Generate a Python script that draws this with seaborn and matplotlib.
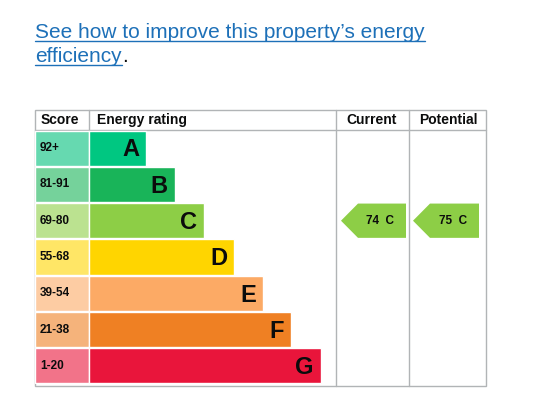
import matplotlib
matplotlib.use("Agg")
import matplotlib.pyplot as plt
import seaborn as sns
from matplotlib.patches import Polygon, Rectangle

sns.set_theme(style="white")
plt.rcParams['font.family'] = ['Liberation Sans', 'DejaVu Sans']

bands = ["A", "B", "C", "D", "E", "F", "G"]
scores = ["92+", "81-91", "69-80", "55-68", "39-54", "21-38", "1-20"]
bar_len = [57, 86, 115, 145, 174, 202, 232]
colors = ["#00c781", "#19b459", "#8dce46", "#ffd500", "#fcaa65", "#ef8023", "#e9153b"]
light = ["#66d9b0", "#75d29b", "#bbe290", "#ffe666", "#fdcca3", "#f5b37b", "#f27389"]
current_score, current_band = 74, "C"
potential_score, potential_band = 75, "C"

W, H = 547, 405
fig = plt.figure(figsize=(W/100, H/100), dpi=100)
main = fig.add_axes([0, 0, 1, 1])
main.set_xlim(0, W); main.set_ylim(H, 0); main.axis("off")

blue = "#1d70b8"
t1 = main.text(35, 38, "See how to improve this property\u2019s energy", color=blue, fontsize=15, va="baseline")
t2 = main.text(35, 62, "efficiency", color=blue, fontsize=15, va="baseline")
fig.canvas.draw()
r = fig.canvas.get_renderer()
inv = main.transData.inverted()
for t, y in [(t1, 41), (t2, 65)]:
    bb = t.get_window_extent(r)
    x0 = inv.transform((bb.x0, bb.y0))[0]; x1 = inv.transform((bb.x1, bb.y0))[0]
    main.plot([x0, x1], [y, y], color=blue, lw=1)
    if t is t2:
        main.text(x1, 62, ".", color="#0b0c0c", fontsize=15, va="baseline")

# table frame
gc = "#b1b4b6"
main.add_patch(Rectangle((35, 110), 451, 276, fill=False, ec=gc, lw=1))
main.plot([35, 486], [130, 130], color=gc, lw=1)
main.plot([89, 89], [110, 130], color=gc, lw=1)
for x in (336, 409):
    main.plot([x, x], [110, 386], color=gc, lw=1)
hdr = dict(fontsize=10, fontweight="bold", color="#0b0c0c", va="center")
main.text(41, 120, "Score", **hdr)
main.text(97, 120, "Energy rating", **hdr)
main.text(372, 120, "Current", ha="center", **hdr)
main.text(448, 120, "Potential", ha="center", **hdr)

# bars inset (x in pixels from 35, y categorical)
ax = fig.add_axes([35/W, 1-384/H, 301/W, 254/H])
sns.barplot(x=[54]*len(scores), y=scores, hue=scores, palette=light, legend=False,
            orient="h", width=0.97, ax=ax, saturation=1)
ax.barh(range(len(bands)), bar_len, left=54, height=0.97, color=colors)
ax.set_xlim(0, 301); ax.set_ylim(6.5, -0.5)
ax.axis("off")
for i, (s, b, L) in enumerate(zip(scores, bands, bar_len)):
    ax.text(5, i, s, fontsize=8.5, fontweight="bold", color="#0b0c0c", va="center")
    ax.text(54 + L - 7, i + 0.05, b, fontsize=17, fontweight="bold", color="#0b0c0c",
            va="center", ha="right")

row_h = 254/7
def arrow(x0, x1, score, band):
    i = bands.index(band)
    top = 130 + i*row_h + 1; bot = top + row_h - 2; mid = (top+bot)/2
    main.add_patch(Polygon([(x0, mid), (x0+17, top), (x1, top), (x1, bot), (x0+17, bot)],
                           closed=True, color=colors[i], lw=0))
    main.text((x0+x1)/2 + 7, mid, f"{score}  {band}", fontsize=8.5, fontweight="bold",
              color="#0b0c0c", ha="center", va="center")
arrow(341, 406, current_score, current_band)
arrow(413, 479, potential_score, potential_band)

fig.savefig("out.png", dpi=100)
